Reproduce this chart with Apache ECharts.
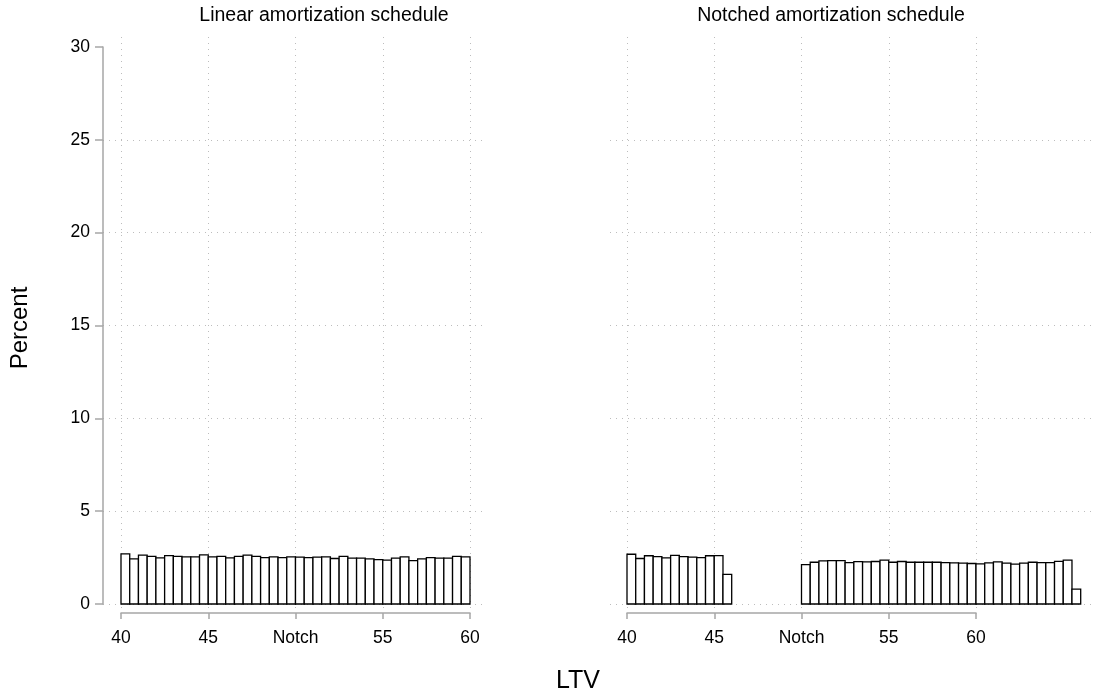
<!DOCTYPE html>
<html>
<head>
<meta charset="utf-8">
<script src="https://cdn.jsdelivr.net/npm/echarts@6/dist/echarts.min.js"></script>
<style>html,body{margin:0;padding:0;background:#fff}#c{width:1097px;height:699px}</style>
</head>
<body>
<div id="c"></div>
<script>
// ---- data ----
var panelTitles = ['Linear amortization schedule', 'Notched amortization schedule'];
var xTickLabels = {40: '40', 45: '45', 50: 'Notch', 55: '55', 60: '60'};
var binWidth = 0.5;
var linearBins = [40, 40.5, 41, 41.5, 42, 42.5, 43, 43.5, 44, 44.5,
                  45, 45.5, 46, 46.5, 47, 47.5, 48, 48.5, 49, 49.5,
                  50, 50.5, 51, 51.5, 52, 52.5, 53, 53.5, 54, 54.5,
                  55, 55.5, 56, 56.5, 57, 57.5, 58, 58.5, 59, 59.5];
var linearPct = [2.70, 2.43, 2.63, 2.57, 2.48, 2.61, 2.56, 2.54, 2.54, 2.65,
                 2.54, 2.57, 2.48, 2.57, 2.63, 2.56, 2.50, 2.54, 2.50, 2.54,
                 2.52, 2.50, 2.52, 2.54, 2.45, 2.57, 2.47, 2.47, 2.43, 2.39,
                 2.36, 2.47, 2.54, 2.34, 2.43, 2.50, 2.47, 2.47, 2.57, 2.54];
var notchedBins = [40, 40.5, 41, 41.5, 42, 42.5, 43, 43.5, 44, 44.5, 45, 45.5,
                   50, 50.5, 51, 51.5, 52, 52.5, 53, 53.5, 54, 54.5,
                   55, 55.5, 56, 56.5, 57, 57.5, 58, 58.5, 59, 59.5,
                   60, 60.5, 61, 61.5, 62, 62.5, 63, 63.5, 64, 64.5, 65, 65.5];
var notchedPct = [2.68, 2.45, 2.60, 2.55, 2.48, 2.62, 2.55, 2.53, 2.50, 2.60, 2.61, 1.60,
                  2.12, 2.25, 2.32, 2.34, 2.34, 2.23, 2.28, 2.27, 2.29, 2.36,
                  2.25, 2.29, 2.25, 2.25, 2.25, 2.25, 2.23, 2.22, 2.20, 2.18,
                  2.16, 2.22, 2.27, 2.20, 2.15, 2.20, 2.25, 2.23, 2.23, 2.30, 2.36, 0.80];

// ---- chart ----
var FONT = '"Liberation Sans", Arial, Helvetica, sans-serif';
var AXIS_GRAY = '#a6a6a6';
var GRID_STYLE = {color: '#bdbdbd', width: 1, type: [1, 5]};

function toData(bins, vals) {
  return bins.map(function (b, i) { return [b, vals[i]]; });
}
function renderBar(params, api) {
  var x0 = api.value(0), v = api.value(1);
  var p0 = api.coord([x0, v]);
  var p1 = api.coord([x0 + binWidth, 0]);
  return {
    type: 'rect',
    shape: {x: p0[0], y: p0[1], width: p1[0] - p0[0], height: p1[1] - p0[1]},
    style: {fill: '#ffffff', stroke: '#000000', lineWidth: 1.3}
  };
}
function xTickAxis(gridIndex) {
  return {
    type: 'value', gridIndex: gridIndex, min: 40, max: 60, interval: 5,
    position: 'bottom', offset: 6,
    axisLine: {show: true, lineStyle: {color: AXIS_GRAY, width: 1.5}},
    axisTick: {show: true, length: 6, lineStyle: {color: AXIS_GRAY, width: 1.5}},
    axisLabel: {show: true, margin: 10, color: '#000', fontSize: 17.5, fontFamily: FONT,
      formatter: function (v) { return xTickLabels[v] !== undefined ? xTickLabels[v] : ''; }},
    splitLine: {show: true, lineStyle: GRID_STYLE}
  };
}
function hiddenX(gridIndex, min, max) {
  return {type: 'value', gridIndex: gridIndex, min: min, max: max,
    axisLine: {show: false}, axisTick: {show: false}, axisLabel: {show: false}, splitLine: {show: false}};
}

var chart = echarts.init(document.getElementById('c'), null, {renderer: 'canvas'});
var option = {
  backgroundColor: '#ffffff',
  animation: false,
  grid: [
    {left: 103, top: 47, width: 384, height: 557, outerBoundsMode: 'none', containLabel: false},
    {left: 121, top: 37, width: 349, height: 576, outerBoundsMode: 'none', containLabel: false},
    {left: 610, top: 47, width: 483, height: 557, outerBoundsMode: 'none', containLabel: false},
    {left: 627, top: 37, width: 349, height: 576, outerBoundsMode: 'none', containLabel: false}
  ],
  xAxis: [
    hiddenX(0, 40 - 18 / 17.45, 40 + 366 / 17.45),
    xTickAxis(1),
    hiddenX(2, 40 - 17 / 17.45, 40 + 466 / 17.45),
    xTickAxis(3)
  ],
  yAxis: [
    {type: 'value', gridIndex: 0, min: 0, max: 30, interval: 5,
      axisLine: {show: true, lineStyle: {color: AXIS_GRAY, width: 1.5}},
      axisTick: {show: true, length: 8, lineStyle: {color: AXIS_GRAY, width: 1.5}},
      axisLabel: {show: true, margin: 13, color: '#000', fontSize: 17.5, fontFamily: FONT},
      splitLine: {show: true, showMaxLine: false, lineStyle: GRID_STYLE}},
    {type: 'value', gridIndex: 1, min: 0, max: 1, show: false},
    {type: 'value', gridIndex: 2, min: 0, max: 30, interval: 5,
      axisLine: {show: false}, axisTick: {show: false}, axisLabel: {show: false},
      splitLine: {show: true, showMaxLine: false, lineStyle: GRID_STYLE}},
    {type: 'value', gridIndex: 3, min: 0, max: 1, show: false}
  ],
  series: [
    {type: 'custom', xAxisIndex: 0, yAxisIndex: 0, renderItem: renderBar,
      data: toData(linearBins, linearPct), clip: false},
    {type: 'custom', xAxisIndex: 2, yAxisIndex: 2, renderItem: renderBar,
      data: toData(notchedBins, notchedPct), clip: false}
  ],
  graphic: [
    {type: 'text', x: 324, y: 16, style: {text: panelTitles[0], font: '19.5px ' + FONT, fill: '#000',
      textAlign: 'center', textVerticalAlign: 'middle'}},
    {type: 'text', x: 831, y: 16, style: {text: panelTitles[1], font: '19.5px ' + FONT, fill: '#000',
      textAlign: 'center', textVerticalAlign: 'middle'}},
    {type: 'text', x: 20, y: 328, rotation: Math.PI / 2, style: {text: 'Percent', font: '24px ' + FONT, fill: '#000',
      textAlign: 'center', textVerticalAlign: 'middle'}},
    {type: 'text', x: 578, y: 681, style: {text: 'LTV', font: '25px ' + FONT, fill: '#000',
      textAlign: 'center', textVerticalAlign: 'middle'}}
  ]
};
chart.setOption(option);
</script>
</body>
</html>
